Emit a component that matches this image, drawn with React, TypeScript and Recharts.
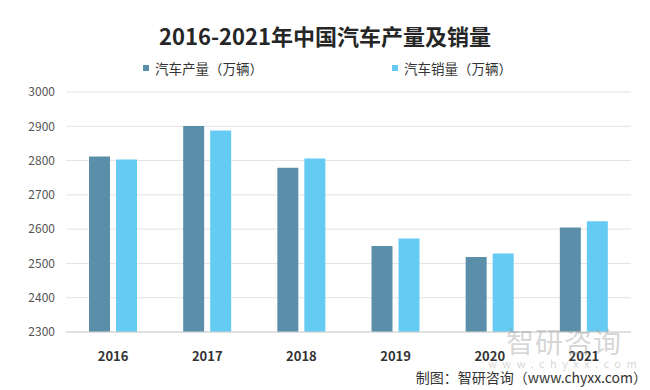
import React from "react";
import { Bar, BarChart, CartesianGrid, XAxis, YAxis } from "recharts";

const years = ["2016", "2017", "2018", "2019", "2020", "2021"];
const production = [2812, 2901, 2779, 2551, 2519, 2605];
const sales = [2803, 2888, 2806, 2573, 2529, 2623];
const yTicks = [2300, 2400, 2500, 2600, 2700, 2800, 2900, 3000];

const PROD_COLOR = "#5b8fa9";
const SALES_COLOR = "#66cbf2";
const FONT = "'Noto Sans CJK SC', 'Noto Sans', sans-serif";

const data = years.map((year, i) => ({
  year,
  production: production[i],
  sales: sales[i],
}));

function LegendItem({ color, label, left }: { color: string; label: string; left: number }) {
  return (
    <div
      style={{
        position: "absolute",
        left,
        top: 58,
        display: "flex",
        alignItems: "center",
        fontSize: 13.5,
        color: "#333",
        whiteSpace: "nowrap",
      }}
    >
      <span style={{ width: 6, height: 6, background: color, marginRight: 6 }} />
      {label}
    </div>
  );
}

export default function App() {
  return (
    <div
      style={{
        position: "absolute",
        left: 0,
        top: 0,
        width: 650,
        height: 390,
        background: "#fff",
        fontFamily: FONT,
      }}
    >
      <div
        style={{
          position: "absolute",
          left: 0,
          width: 650,
          top: 20,
          textAlign: "center",
          fontSize: 22,
          fontWeight: 700,
          color: "#262626",
          lineHeight: "30px",
        }}
      >
        2016-2021年中国汽车产量及销量
      </div>
      <LegendItem color={PROD_COLOR} label="汽车产量（万辆）" left={143} />
      <LegendItem color={SALES_COLOR} label="汽车销量（万辆）" left={392} />

      <BarChart
        width={650}
        height={390}
        data={data}
        margin={{ top: 92, right: 19, bottom: 28, left: 0 }}
        barGap={6}
        barSize={21}
      >
        <CartesianGrid vertical={false} stroke="#e3e3e3" />
        <XAxis
          dataKey="year"
          axisLine={{ stroke: "#d0d0d0" }}
          tickLine={false}
          tickMargin={14}
          tick={{ fontSize: 13, fontWeight: 700, fill: "#333", fontFamily: FONT }}
        />
        <YAxis
          width={66}
          domain={[2300, 3000]}
          ticks={yTicks}
          axisLine={false}
          tickLine={false}
          tickMargin={5}
          tick={{ fontSize: 12, fill: "#555", fontFamily: FONT }}
        />
        <Bar dataKey="production" fill={PROD_COLOR} isAnimationActive={false} />
        <Bar dataKey="sales" fill={SALES_COLOR} isAnimationActive={false} />
      </BarChart>

      <div
        style={{
          position: "absolute",
          left: 506,
          top: 324,
          fontSize: 28,
          lineHeight: "34px",
          color: "rgba(150,150,150,0.4)",
          letterSpacing: 1,
          whiteSpace: "nowrap",
        }}
      >
        智研咨询
      </div>
      <div
        style={{
          position: "absolute",
          left: 488,
          top: 357,
          fontSize: 11,
          lineHeight: "13px",
          color: "rgba(150,150,150,0.4)",
          letterSpacing: 5.5,
          whiteSpace: "nowrap",
        }}
      >
        www.chyxx.com
      </div>
      <div
        style={{
          position: "absolute",
          right: 3,
          top: 367,
          fontSize: 14,
          color: "#333",
          whiteSpace: "nowrap",
          lineHeight: "20px",
        }}
      >
        制图：智研咨询（www.chyxx.com）
      </div>
    </div>
  );
}
